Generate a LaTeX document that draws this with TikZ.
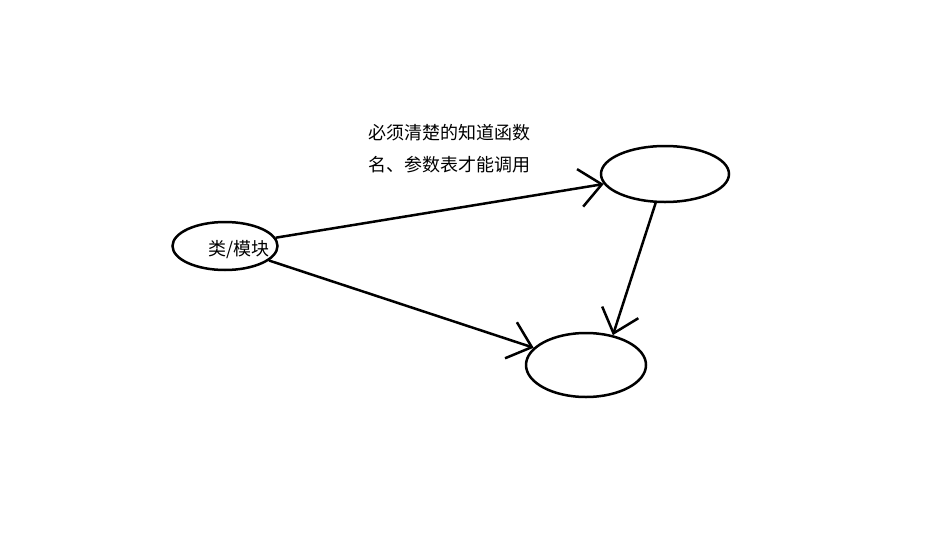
\documentclass[tikz,border=0pt]{standalone}
\usepackage{fontspec}
\setmainfont{Noto Sans CJK SC}
\usetikzlibrary{shapes.geometric,arrows.meta,positioning}

\begin{document}
\begin{tikzpicture}[x=1pt,y=-1pt,line width=2.5pt,
  every node/.style={font=\fontsize{18}{32}\selectfont,inner sep=0pt},
  blob/.style={draw,ellipse},
  call/.style={-{Straight Barb[length=22pt,width=38pt]}}
]
\useasboundingbox (0,0) rectangle (944,538);

% the modules
\node[blob,minimum width=105pt,minimum height=48pt] (cls) at (225,246) {};
\node[blob,minimum width=128pt,minimum height=56pt] (fa) at (665,174) {};
\node[blob,minimum width=120pt,minimum height=64pt] (fb) at (586,365) {};
\node (clstext) at (239,250) {类/模块};

% the note
\node[align=left,anchor=west] (note) at (367,149) {必须清楚的知道函数\\名、参数表才能调用};

% the calls
\draw[call] (cls) -- (fa);
\draw[call] (cls) -- (fb);
\draw[call] (fa) -- (fb.48);
\end{tikzpicture}
\end{document}
